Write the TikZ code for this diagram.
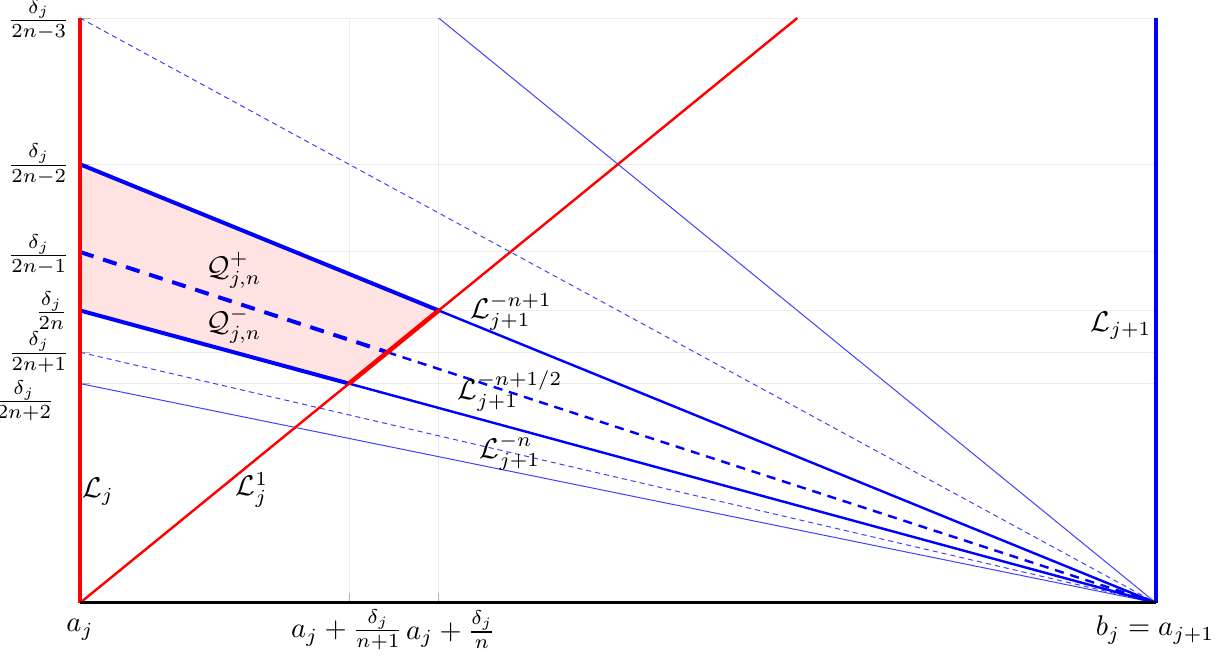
\documentclass[tikz,border=0pt]{standalone}
\usepackage{amsmath, amssymb}
\usetikzlibrary{positioning}

\begin{document}
\begin{tikzpicture}[
  x=13.27cm, y=21.64cm,
  gridln/.style={draw=gray!15, line width=0.35pt},
  tickln/.style={draw=gray!60, line width=0.35pt},
  thinblue/.style={draw=blue!75, line width=0.35pt},
  thindash/.style={thinblue, dash pattern=on 1.8pt off 1.4pt},
  medblue/.style={draw=blue, line width=0.85pt},
  meddash/.style={medblue, dash pattern=on 3.2pt off 2.4pt},
  fatblue/.style={draw=blue, line width=1.4pt},
  fatdash/.style={fatblue, dash pattern=on 5pt off 3.5pt},
  redln/.style={draw=red, line width=0.85pt},
  fatred/.style={draw=red, line width=1.6pt},
  lbl/.style={inner sep=0pt},
]
\useasboundingbox (-0.07435,-0.03248) rectangle (1.0697,0.34359);

%% ===== KEY POINTS =====

\coordinate (aj)   at (0,0);
\coordinate (bj)   at (1,0);
\coordinate (ytop) at (0,1/3);
\coordinate (btop) at (1,1/3);
\coordinate (y4)   at (0,1/4);
\coordinate (y5)   at (0,1/5);
\coordinate (y6)   at (0,1/6);
\coordinate (y7)   at (0,1/7);
\coordinate (y8)   at (0,1/8);
\coordinate (pup)  at (1/3,1/6);   % upper line meets red line
\coordinate (pmid) at (2/7,1/7);   % dashed line meets red line
\coordinate (plow) at (1/4,1/8);   % lower line meets red line
\coordinate (rtop) at (2/3,1/3);
\coordinate (ntop) at (1/3,1/3);

%% ===== GRID =====

\foreach \k in {3,4,5,6,7,8}
  \draw[gridln] (0,1/\k) -- (1,1/\k);
\foreach \k in {3,4}
  \draw[gridln] (1/\k,0) -- (1/\k,1/3);
\foreach \k in {3,4}
  \draw[tickln] (1/\k,0) -- ++(0pt,3.5pt);
\foreach \k in {3,4,5,6,7,8}
  \draw[tickln] (0,1/\k) -- ++(3.5pt,0pt);

%% ===== REGION Q =====

\fill[red!11] (y6) -- (y4) -- (pup) -- (plow) -- cycle;

%% ===== LINES TO b_j =====

\draw[thindash] (ytop) -- (bj);
\draw[thindash] (y7)   -- (bj);
\draw[thinblue] (y8)   -- (bj);
\draw[thinblue] (ntop) -- (bj);

\draw[fatblue] (y4)   -- (pup);
\draw[medblue] (pup)  -- (bj);
\draw[fatdash] (y5)   -- (pmid);
\draw[meddash] (pmid) -- (bj);
\draw[fatblue] (y6)   -- (plow);
\draw[medblue] (plow) -- (bj);

%% ===== RED LINES =====

\draw[redln] (aj)   -- (rtop);
\draw[fatred] (plow) -- (pup);
\draw[redln, line width=1.1pt] (aj) -- (ytop);
\draw[fatred] (y6)   -- (y4);

%% ===== AXES =====

\draw[draw=blue, line width=1.1pt] (bj) -- (btop);
\draw[line width=1.1pt] (aj) -- (bj);

%% ===== LABELS =====

\node[lbl, anchor=east] (l3) at (-0.0093,0.3325) {$\frac{\delta_j}{2n-3}$};
\node[lbl, anchor=east] (l4) at (-0.0093,1/4) {$\frac{\delta_j}{2n-2}$};
\node[lbl, anchor=east] (l5) at (-0.0093,0.1985) {$\frac{\delta_j}{2n-1}$};
\node[lbl, anchor=east] (l6) at (-0.0110,1/6) {$\frac{\delta_j}{2n}$};
\node[lbl, anchor=east] (l7) at (-0.0093,1/7) {$\frac{\delta_j}{2n+1}$};
\node[lbl, anchor=east] (l8) at (-0.0232,0.1151) {$\frac{\delta_j}{2n+2}$};

\node[lbl] (xa)  at (0,-0.0154)      {$a_j$};
\node[lbl] (xa4) at (0.2481,-0.0154) {$a_j+\frac{\delta_j}{n+1}$};
\node[lbl] (xa3) at (0.3448,-0.0154) {$a_j+\frac{\delta_j}{n}$};
\node[lbl] (xb)  at (0.9991,-0.0154) {$b_j=a_{j+1}$};

\node[lbl] (Lnext) at (0.9675,0.1578) {$\mathcal{L}_{j+1}$};
\node[lbl] (Lj)    at (0.0167,0.0632) {$\mathcal{L}_j$};
\node[lbl] (Lj1)   at (0.1599,0.0644) {$\mathcal{L}_j^1$};
\node[lbl] (Qp)    at (0.1431,0.1897) {$\mathcal{Q}^+_{j,n}$};
\node[lbl] (Qm)    at (0.1431,0.1584) {$\mathcal{Q}^-_{j,n}$};
\node[lbl] (Lup)   at (0.4006,0.1658) {$\mathcal{L}_{j+1}^{-n+1}$};
\node[lbl] (Lmid)  at (0.3996,0.1208) {$\mathcal{L}_{j+1}^{-n+1/2}$};
\node[lbl] (Llow)  at (0.3996,0.0860) {$\mathcal{L}_{j+1}^{-n}$};

\end{tikzpicture}
\end{document}
